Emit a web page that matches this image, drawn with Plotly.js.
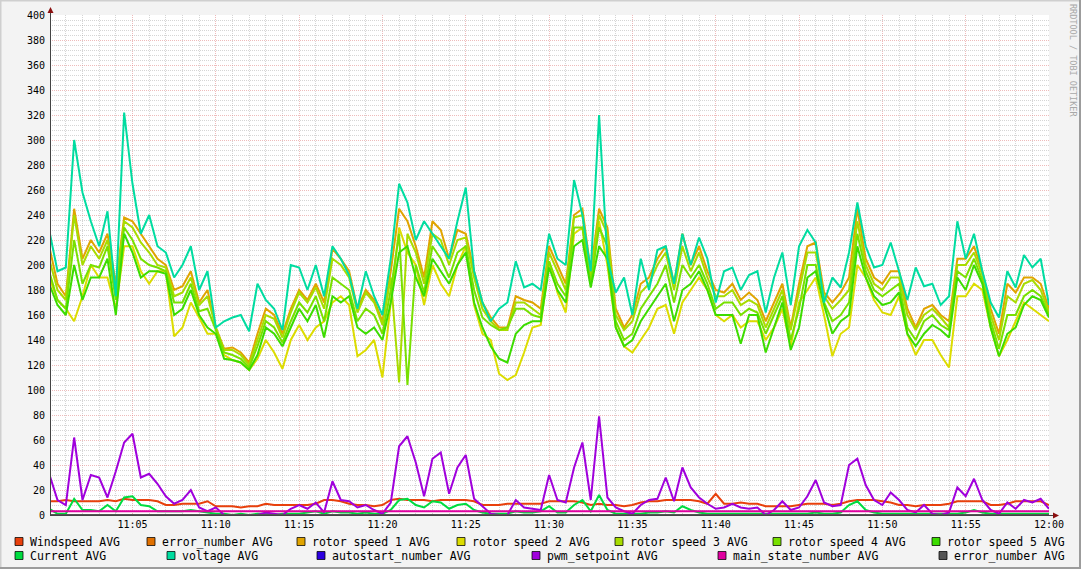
<!DOCTYPE html>
<html>
<head>
<meta charset="utf-8">
<script src="https://cdn.plot.ly/plotly-3.0.1.min.js"></script>
<style>
html,body{margin:0;padding:0;background:#F3F3F3;}
#chart{width:1081px;height:569px;}
</style>
</head>
<body>
<div id="chart"></div>
<script>
// ---- data (30 s samples from 11:00:00 to 12:00:00) ----
const startMs = Date.UTC(2024, 0, 1, 11, 0, 0);
const stepMs = 30000;

const voltage = [228,195,198,300,258,235,215,243,175,322,265,225,240,215,210,190,200,215,180,195,150,155,158,160,147,185,172,165,148,200,198,
180,200,175,215,205,192,165,195,175,160,205,265,250,220,235,225,215,205,235,262,195,170,155,165,170,203,182,185,180,225,
205,200,268,240,195,320,205,178,190,160,205,180,212,215,185,225,200,222,205,170,195,198,180,192,195,162,190,210,168,215,
228,218,170,190,182,210,250,215,198,200,218,195,172,198,183,185,168,175,235,205,225,195,170,158,195,182,208,198,205,168];

const rotor1 = [215,185,175,245,205,220,210,225,185,238,235,225,215,205,200,180,183,195,170,180,150,133,134,130,122,145,165,160,145,165,180,
172,185,170,213,205,195,165,180,172,155,195,245,235,215,190,235,228,205,228,225,195,170,158,150,150,175,172,170,165,215,
200,185,240,245,195,245,230,165,150,160,185,190,205,215,185,225,200,215,195,180,178,185,172,178,172,155,170,185,150,185,
215,218,178,170,178,190,245,205,190,185,195,195,165,150,165,168,160,155,205,205,215,195,165,145,185,178,190,190,185,165];

const rotor2 = [190,172,165,155,175,200,190,190,165,215,215,195,185,195,195,143,150,170,158,145,145,128,124,122,116,125,140,130,117,140,152,
140,150,155,170,175,168,127,132,140,110,170,230,210,200,168,200,185,175,200,215,168,145,140,113,108,112,130,150,152,203,
178,162,225,230,185,235,200,150,135,130,140,150,165,168,145,170,180,190,180,160,155,160,150,155,155,140,150,165,135,170,
180,190,160,127,145,150,200,190,172,162,160,175,145,128,140,140,128,118,175,175,185,180,150,127,140,155,170,165,160,155];

const rotor3 = [205,180,172,240,200,215,205,220,180,235,230,218,210,200,198,175,178,190,168,175,150,132,132,128,120,140,160,157,142,162,178,
170,182,165,205,200,190,162,178,170,152,190,106,225,210,185,225,220,200,220,222,190,165,155,148,148,170,170,165,160,210,
195,180,238,240,190,240,225,160,148,155,178,185,200,210,180,215,195,210,190,175,175,180,168,172,168,150,165,180,148,178,
210,210,175,165,172,180,235,200,185,180,190,190,160,148,160,165,158,150,200,200,210,192,160,140,175,170,185,188,180,162];

const rotor4 = [195,172,165,220,185,200,198,215,172,230,220,205,200,198,195,170,170,185,163,165,148,130,128,125,118,135,155,150,138,155,170,
162,175,155,190,185,180,155,165,160,145,180,225,104,200,178,215,205,190,210,215,180,158,152,148,150,165,165,160,158,203,
185,175,230,230,185,230,215,155,140,145,165,175,185,200,170,200,190,200,185,165,170,170,160,165,162,145,160,175,140,165,
200,200,170,155,160,170,225,195,180,175,180,185,150,140,155,160,152,148,195,190,205,188,155,133,160,160,175,180,175,160];

const rotor5 = [185,168,160,200,172,190,190,205,160,225,210,190,195,195,193,160,165,180,160,150,145,125,124,122,116,128,150,145,135,150,165,
155,168,142,175,170,175,150,145,150,140,170,210,215,190,175,205,195,185,200,210,170,150,135,125,122,145,152,155,155,198,
180,170,215,220,182,215,205,150,135,140,155,165,175,185,155,180,185,195,180,160,160,160,137,160,160,130,150,170,132,150,
190,195,168,145,155,160,215,190,175,168,170,178,145,135,145,152,148,142,190,180,200,185,150,127,145,150,168,175,172,158];

const pwmSetpoint = [33,12,8,62,12,32,30,14,35,58,65,30,33,25,15,9,12,20,6,3,6,0,0,0,0,0,2,1,0,5,8,
5,10,2,27,12,11,6,8,4,1,10,55,63,42,15,45,50,17,38,48,13,7,1,0,0,12,6,5,4,32,
12,10,38,58,12,79,14,6,3,1,8,12,13,30,11,38,22,14,9,5,6,9,6,5,6,0,4,11,4,6,
15,28,10,7,8,40,45,24,12,8,18,12,4,2,8,1,0,2,22,15,29,12,4,1,10,5,12,10,13,5];

const windspeed = [11,11,12,11,11,11,11,12,11,13,12,12,12,11,8,8,9,9,9,11,7,7,7,6,7,7,9,8,8,8,8,
8,9,12,12,11,9,8,8,7,8,12,13,12,12,12,11,12,12,12,12,11,8,8,8,9,9,9,9,9,11,
11,11,11,10,8,9,8,8,7,8,10,11,11,12,12,12,12,11,9,17,9,9,10,9,9,7,7,7,7,8,
9,9,9,8,9,11,12,12,12,11,10,8,8,7,8,8,8,9,11,11,11,11,8,8,9,11,11,11,11,8];

const current = [5,1,1,13,4,4,3,8,3,14,15,8,7,3,3,3,3,4,3,2,1,1,0,1,0,1,1,0,1,1,1,
2,3,1,3,2,2,1,2,1,1,4,12,13,8,6,11,10,5,8,9,4,2,1,1,1,3,2,2,3,7,
2,2,8,12,3,16,4,1,1,1,1,2,2,3,2,7,4,2,1,1,1,1,1,1,1,1,1,1,1,1,
1,2,1,1,2,8,11,4,2,1,1,1,1,1,1,1,1,1,1,2,4,2,1,1,1,1,1,1,1,1];

// flat series: [value at 11:00, value at 12:00]
const errorNumberA = [0, 0];
const autostartNumber = [0, 0];
const mainStateNumber = [3, 3];
const errorNumberB = [0, 0];

const seriesNames = ["Windspeed AVG","error_number AVG","rotor speed 1 AVG","rotor speed 2 AVG","rotor speed 3 AVG",
  "rotor speed 4 AVG","rotor speed 5 AVG","Current AVG","voltage AVG","autostart_number AVG","pwm_setpoint AVG",
  "main_state_number AVG","error_number AVG"];
const seriesColors = ["#E8400C","#E07000","#E0A400","#DCDC00","#A8DC00","#78E000","#3CDC00","#00DC40","#00DCA0",
  "#2C00E0","#A000DC","#E000A0","#555555"];
const watermark = "RRDTOOL / TOBI OETIKER";

// ---- build ----
const times = voltage.map((_, i) => startMs + i * stepMs);
const endpoints = [startMs, startMs + 120 * stepMs];
const seriesData = [
  [times, windspeed], [endpoints, errorNumberA], [times, rotor1], [times, rotor2], [times, rotor3],
  [times, rotor4], [times, rotor5], [times, current], [times, voltage], [endpoints, autostartNumber],
  [times, pwmSetpoint], [endpoints, mainStateNumber], [endpoints, errorNumberB]
];
const traces = seriesData.map((d, k) => ({
  type: "scatter", mode: "lines", x: d[0], y: d[1], name: seriesNames[k],
  line: {color: seriesColors[k], width: 2}, showlegend: false, hoverinfo: "skip"
}));

// pixel -> paper helpers (plot area: x 50..1049, y 15..515)
const PL = 50, PW = 999, PB = 515, PH = 500;
const px = v => (v - PL) / PW;
const py = v => (PB - v) / PH;

const shapes = [];
const annotations = [];

// legend layout
const legendRows = [[0,1,2,3,4,5,6],[7,8,9,10,11,12]];
const legendX = [[15,147,297,457,615,773,932],[15,167,317,532,718,939]];
const legendY = [541.5, 555.5];
legendRows.forEach((row, r) => {
  row.forEach((k, j) => {
    const x0 = legendX[r][j], yc = legendY[r];
    shapes.push({type:"rect", xref:"paper", yref:"paper", x0:px(x0), x1:px(x0+8), y0:py(yc+4), y1:py(yc-4),
      fillcolor: seriesColors[k], line:{color:"rgba(0,0,0,0.75)", width:1}});
    annotations.push({xref:"paper", yref:"paper", x:px(x0+13), y:py(yc), xanchor:"left", yanchor:"middle",
      showarrow:false, text: seriesNames[k], font:{family:"DejaVu Sans Mono", size:11.5, color:"#000"}});
  });
});

// watermark
annotations.push({xref:"paper", yref:"paper", x:px(1073), y:py(60), xanchor:"center", yanchor:"middle",
  showarrow:false, textangle:90, text: watermark, font:{family:"DejaVu Sans Mono", size:8.5, color:"#A8A8A8"}});

// frame
shapes.push({type:"line", xref:"paper", yref:"paper", x0:px(0), x1:px(1081), y0:py(0.5), y1:py(0.5), line:{color:"#CFCFCF", width:2}});
shapes.push({type:"line", xref:"paper", yref:"paper", x0:px(0.5), x1:px(0.5), y0:py(0), y1:py(569), line:{color:"#CFCFCF", width:2}});
shapes.push({type:"line", xref:"paper", yref:"paper", x0:px(0), x1:px(1081), y0:py(568), y1:py(568), line:{color:"#9C9C9C", width:2}});
shapes.push({type:"line", xref:"paper", yref:"paper", x0:px(1080), x1:px(1080), y0:py(0), y1:py(569), line:{color:"#9C9C9C", width:2}});
// axis extensions and arrows
shapes.push({type:"line", xref:"paper", yref:"paper", x0:px(50.5), x1:px(50.5), y0:py(515), y1:py(10), line:{color:"#444", width:1}});
shapes.push({type:"line", xref:"paper", yref:"paper", x0:px(50), x1:px(1054), y0:py(515.5), y1:py(515.5), line:{color:"#444", width:1}});
shapes.push({type:"path", xref:"paper", yref:"paper",
  path:`M ${px(47.5)} ${py(13)} L ${px(53.5)} ${py(13)} L ${px(50.5)} ${py(7)} Z`, fillcolor:"#8B1010", line:{width:0}});
shapes.push({type:"path", xref:"paper", yref:"paper",
  path:`M ${px(1053)} ${py(512.5)} L ${px(1053)} ${py(518.5)} L ${px(1059)} ${py(515.5)} Z`, fillcolor:"#8B1010", line:{width:0}});

const majorGrid = "rgba(222,120,120,0.5)";
const minorGrid = "rgba(150,150,150,0.4)";

const layout = {
  width: 1081, height: 569,
  margin: {l: 50, r: 32, t: 15, b: 54, pad: 0},
  paper_bgcolor: "#F3F3F3", plot_bgcolor: "#FFFFFF",
  showlegend: false,
  xaxis: {
    type: "date",
    range: [startMs + 3000, startMs + 120 * stepMs],
    tickmode: "linear", tick0: startMs, dtick: 300000, tickformat: "%H:%M",
    showgrid: true, gridcolor: majorGrid, griddash: "1px,1px", gridwidth: 1,
    minor: {tickmode:"linear", tick0: startMs, dtick: 60000, showgrid: true, gridcolor: minorGrid, griddash: "1px,1px", gridwidth: 1, ticks: ""},
    ticks: "", showline: false, zeroline: false,
    tickfont: {family: "DejaVu Sans Mono", size: 10, color: "#000"},
    ticklabelstandoff: 2
  },
  yaxis: {
    range: [0, 400], tickmode: "linear", tick0: 0, dtick: 20,
    showgrid: true, gridcolor: majorGrid, griddash: "1px,1px", gridwidth: 1,
    minor: {tickmode:"linear", tick0: 0, dtick: 4, showgrid: true, gridcolor: minorGrid, griddash: "1px,1px", gridwidth: 1, ticks: ""},
    ticks: "", showline: false, zeroline: false,
    tickfont: {family: "DejaVu Sans Mono", size: 10, color: "#000"},
    ticklabelstandoff: 4
  },
  shapes: shapes,
  annotations: annotations
};

Plotly.newPlot("chart", traces, layout, {staticPlot: true, displayModeBar: false});
</script>
</body>
</html>
